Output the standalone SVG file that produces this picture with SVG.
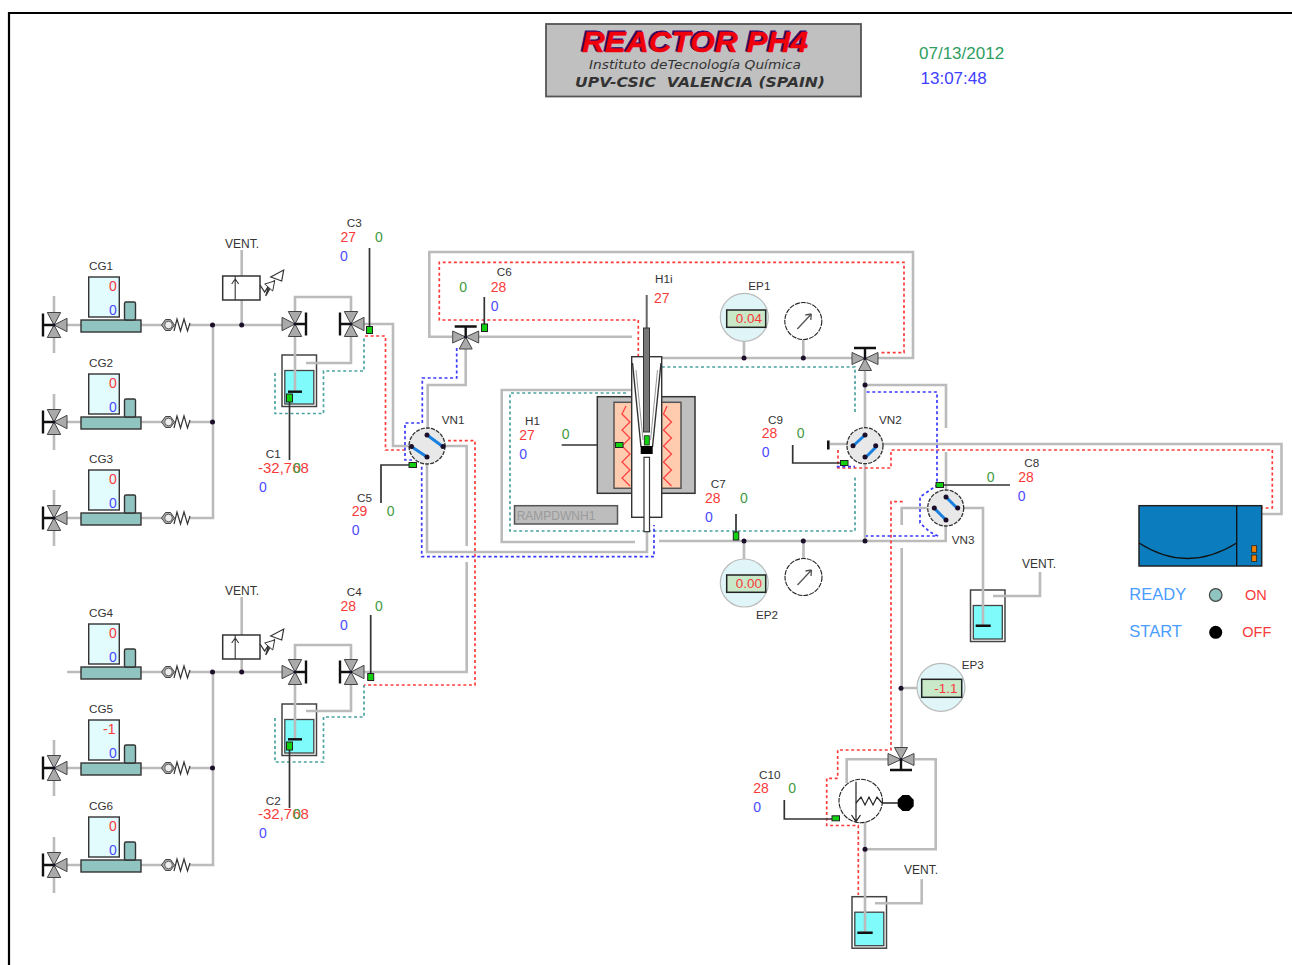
<svg xmlns="http://www.w3.org/2000/svg" xmlns:xlink="http://www.w3.org/1999/xlink" width="1292" height="965" viewBox="0 0 1292 965">
<style>
text{font-family:"Liberation Sans",Arial,sans-serif;font-size:14px}
.l{font-size:11.7px;fill:#333}
.r{fill:#f83a3a}.b{fill:#4a4aff}.g{fill:#3f9a3f}
.big{font-size:15px}
.p{fill:none;stroke:#bbb;stroke-width:2.6}
.dr,.db,.dt{fill:none;stroke-width:1.7;stroke-dasharray:3 2.6}
.dr{stroke:#ff3c3c}.db{stroke:#3a3aff}.dt{stroke:#4aa3a0}
.k{fill:none;stroke:#333;stroke-width:1.7}
.tri{fill:#aaa;stroke:#444;stroke-width:1}
.bar{stroke:#111;stroke-width:2.4;fill:none}
.dot{fill:#1c0f2a}
.sens{fill:#10d010;stroke:#222;stroke-width:1}
.blue{stroke:#1a80e0;stroke-width:3}
.disp{fill:#c8e8c8;stroke:#222;stroke-width:1.5}
.ep{fill:#dff5f7;stroke:#bbb;stroke-width:1.2}
.hz{fill:none;stroke:#ff4040;stroke-width:1.3}
</style>
<defs>
<g id="cgBody">
<rect x="81" y="-5" width="60" height="12" fill="#8fc4c0" stroke="#333" stroke-width="1.4"/>
<rect x="124.500" y="-23" width="11" height="18" rx="1.500" fill="#8fc4c0" stroke="#333" stroke-width="1.400"/>
<rect x="88.700" y="-48" width="30.600" height="40" fill="#e2fbfd" stroke="#333" stroke-width="1.400"/>
</g>
<g id="check">
<polygon points="161.500,0 165.500,-5.500 170.500,-5.500 174.500,0 170.500,5.500 165.500,5.500" fill="#aaa" stroke="#444"/>
<circle cx="168.500" cy="0" r="3.800" fill="#eee" stroke="#444" stroke-width=".8"/>
<polyline points="174,6 177,-6 180.500,6 184,-6 187.500,6 190,-2" fill="none" stroke="#333" stroke-width="1.200"/>
</g>
<g id="valve4">
<polygon class="tri" points="0,0 -6.700,-12.500 6.700,-12.500"/>
<polygon class="tri" points="0,0 -6.700,12.500 6.700,12.500"/>
<polygon class="tri" points="0,0 13,-6.700 13,6.700"/>
<path class="bar" d="M0,0H-11M-11,-11.500V11.500"/>
<circle class="dot" r="1.500"/>
</g>
<g id="valveT">
<polygon class="tri" points="0,0 -13,-6 -13,6"/>
<polygon class="tri" points="0,0 13,-6 13,6"/>
<polygon class="tri" points="0,0 -6.500,12 6.500,12"/>
<path class="bar" d="M0,0V-10.500M-11,-10.500H11"/>
<circle class="dot" r="1.500"/>
</g>
<g id="vessel">
<rect x="0" y="0" width="34.500" height="51.500" fill="#fff" stroke="#444" stroke-width="1.500"/>
<rect x="2.800" y="15.500" width="29" height="33.500" fill="#7ffbfb" stroke="#444" stroke-width="1.300"/>
</g>
<g id="vn">
<circle r="18" fill="#e8e8e8" stroke="#333" stroke-width="1.300" stroke-dasharray="4 1.200"/>
</g>
<g id="gauge">
<circle r="18.500" fill="#fff" stroke="#222" stroke-width="1.100" stroke-dasharray="5 1"/>
<path d="M-6,8L8,-7M8,-7L2,-6M8,-7L7.500,-1" fill="none" stroke="#555" stroke-width="1.300"/>
</g>
<g id="ventValve">
<rect x="0" y="0" width="37.300" height="24" fill="#fff" stroke="#333" stroke-width="1.500"/>
<path d="M12.500,0V24M12.500,3L9,8M12.500,3L16,8" fill="none" stroke="#333" stroke-width="1.100"/>
<polyline points="37.300,9 42,16 47,8 43,20 52,4" fill="none" stroke="#333" stroke-width="1.300"/>
<polygon points="48,1 61,-6 59,5" fill="#fff" stroke="#333" stroke-width="1.200"/>
<polygon points="42,8 52,5 50,15" fill="#fff" stroke="#333" stroke-width="1"/>
</g>
</defs>

<rect width="1292" height="965" fill="#fff"/>
<path d="M9,965V13H1292" fill="none" stroke="#000" stroke-width="2.200"/>

<g id="title">
<rect x="546" y="24" width="315" height="72.500" fill="#c0c0c0" stroke="#555" stroke-width="1.800"/>
<text x="580.500" y="50.700" font-weight="bold" font-style="italic" textLength="226" lengthAdjust="spacingAndGlyphs" style="font-size:30px;fill:#2a0a70;stroke:#2a0a70;stroke-width:.8">REACTOR PH4</text>
<text x="582" y="51.700" font-weight="bold" font-style="italic" textLength="226" lengthAdjust="spacingAndGlyphs" style="font-size:30px;fill:#f0000a;stroke:#f0000a;stroke-width:.5">REACTOR PH4</text>
<text x="589" y="69" font-style="italic" textLength="212" lengthAdjust="spacingAndGlyphs" style="font-family:'DejaVu Sans',sans-serif;font-size:12.500px;fill:#333">Instituto deTecnología Química</text>
<text x="575" y="87" font-style="italic" font-weight="bold" textLength="250" lengthAdjust="spacingAndGlyphs" style="font-family:'DejaVu Sans',sans-serif;font-size:13.500px;fill:#333;white-space:pre">UPV-CSIC  VALENCIA (SPAIN)</text>
</g>
<g id="clock">
<text x="919" y="59.300" style="font-size:17px;fill:#2e9e62">07/13/2012</text>
<text x="920.500" y="84" style="font-size:17px;fill:#4040ff">13:07:48</text>
</g>

<g id="vessels">
<use href="#vessel" x="282" y="355"/>
<use href="#vessel" x="282" y="704"/>
<use href="#vessel" x="970.500" y="590"/>
<use href="#vessel" x="852" y="896.700"/>
</g>

<g id="connectors">
<path class="p" d="M54,296V353M54,325H81M141,325H162M190,325H282"/>
<path class="p" d="M54,394V450M54,422H81M141,422H162M190,422H213"/>
<path class="p" d="M54,490V546M54,518H81M141,518H162M190,518H213V325"/>
<path class="p" d="M67,672H81M141,672H162M190,672H282"/>
<path class="p" d="M54,740V796M54,768H81M141,768H162M190,768H213"/>
<path class="p" d="M54,837V893M54,865H81M141,865H162M190,865H213V672"/>
<path class="p" d="M241.700,250V276M241.700,300V325M241.700,597V635M241.700,659V672"/>
<path class="p" d="M295,312V297H351V312M295,336V392M351,336V363H306"/>
<path class="p" d="M295,660V645H351V660M295,684V740M351,684V711H306"/>
<path class="p" d="M364,324H393V446H410"/>
<path class="p" d="M364,672H466.700V562M466.700,546V446H445"/>
<path class="p" d="M452,336.700H429.300V252H913V358H878"/>
<path class="p" d="M479,336.700H632"/>
<path class="p" d="M465.700,348V385H427.700V428M427,464V552H647V532"/>
<path class="p" d="M662,358H852"/>
<path class="p" d="M632,390H501.700V542H635M659,541H945.700V526"/>
<path class="p" d="M744,341V358M803.300,340V358M744,541V559M803.500,541V559"/>
<path class="p" d="M865,371V428M865,464V541M865,385H946V428M946,452V490"/>
<path class="p" d="M830,444H847M883,444H1281.500V514H1262"/>
<path class="p" d="M927,508H901.700V525M901.700,548V750M901,688H917"/>
<path class="p" d="M964,508H983V626M993,596H1040V572"/>
<path class="p" d="M888,759.300H846.700V783M915,759.300H935.700V849.300H865M865,822V933M875,903.300H921.700V879.300"/>
<path class="dt" d="M275,373V413.500H323.500V371H364V336"/>
<path class="dt" d="M275,718V762H323.500V717H364V685"/>
<path class="dt" d="M626,393H510V531H855V476M855,412V367H662"/>
<path class="dr" d="M365,336H385.500V450H405"/>
<path class="dr" d="M448,440.700H475V685H364"/>
<path class="dr" d="M638.300,356.700V320H439.300V262.300H904V352.700H880"/>
<path class="dr" d="M838,450V468H891V450H1272.300V508H1262"/>
<path class="dr" d="M902.700,501.700H891V750H837.700V778.300H826.700V825.500H858.300V895"/>
<path class="db" d="M456.700,348V378H422.300V423H405V460H412"/>
<path class="db" d="M421.700,466.700V556.700H654V525"/>
<path class="db" d="M866.700,392H937V485L933,488L920,497V523L930,532L938,536H866"/>
<path class="db" d="M836.700,466.700H855"/>
<path class="k" d="M369.500,248V330M289.500,398V460M370.700,615V677M289.500,746V808M381,503V465H410M484.300,297V327"/>
<path class="k" d="M561.700,445H619M736,514V535M792.700,445V463H840M939.300,485H1010M784.300,800V819H832"/>
<path class="k" style="stroke:#666;stroke-width:2" d="M646.700,295V328"/>
</g>

<g id="dots">
<circle class="dot" cx="212.500" cy="325" r="2.500"/><circle class="dot" cx="241.700" cy="325" r="2.500"/><circle class="dot" cx="212.500" cy="422" r="2.500"/>
<circle class="dot" cx="212.500" cy="672" r="2.500"/><circle class="dot" cx="241.700" cy="672" r="2.500"/><circle class="dot" cx="212.500" cy="768" r="2.500"/>
<circle class="dot" cx="744" cy="358" r="2.500"/><circle class="dot" cx="803.300" cy="358" r="2.500"/><circle class="dot" cx="865" cy="385" r="2.500"/>
<circle class="dot" cx="744" cy="541" r="2.500"/><circle class="dot" cx="803.300" cy="541" r="2.500"/><circle class="dot" cx="865" cy="541" r="2.500"/>
<circle class="dot" cx="901" cy="688.300" r="2.500"/><circle class="dot" cx="865" cy="849.300" r="2.500"/>
</g>

<g id="CG1" transform="translate(0,325)"><use href="#valve4" x="54"/><use href="#cgBody"/><use href="#check"/><text class="l" x="89" y="-55">CG1</text><text class="r" x="116.700" y="-34" text-anchor="end">0</text><text class="b" x="116.700" y="-10" text-anchor="end">0</text></g>
<g id="CG2" transform="translate(0,422)"><use href="#valve4" x="54"/><use href="#cgBody"/><use href="#check"/><text class="l" x="89" y="-55">CG2</text><text class="r" x="116.700" y="-34" text-anchor="end">0</text><text class="b" x="116.700" y="-10" text-anchor="end">0</text></g>
<g id="CG3" transform="translate(0,518)"><use href="#valve4" x="54"/><use href="#cgBody"/><use href="#check"/><text class="l" x="89" y="-55">CG3</text><text class="r" x="116.700" y="-34" text-anchor="end">0</text><text class="b" x="116.700" y="-10" text-anchor="end">0</text></g>
<g id="CG4" transform="translate(0,672)"><use href="#cgBody"/><use href="#check"/><text class="l" x="89" y="-55">CG4</text><text class="r" x="116.700" y="-34" text-anchor="end">0</text><text class="b" x="116.700" y="-10" text-anchor="end">0</text></g>
<g id="CG5" transform="translate(0,768)"><use href="#valve4" x="54"/><use href="#cgBody"/><use href="#check"/><text class="l" x="89" y="-55">CG5</text><text class="r" x="115.500" y="-34" text-anchor="end">-1</text><text class="b" x="116.700" y="-10" text-anchor="end">0</text></g>
<g id="CG6" transform="translate(0,865)"><use href="#valve4" x="54"/><use href="#cgBody"/><use href="#check"/><text class="l" x="89" y="-55">CG6</text><text class="r" x="116.700" y="-34" text-anchor="end">0</text><text class="b" x="116.700" y="-10" text-anchor="end">0</text></g>

<g id="vent1"><use href="#ventValve" x="222.700" y="276"/><text class="l" x="225" y="248.300" style="font-size:12px">VENT.</text></g>
<g id="vent2"><use href="#ventValve" x="222.700" y="635"/><text class="l" x="225" y="595" style="font-size:12px">VENT.</text></g>

<g id="V1a"><use href="#valve4" transform="translate(295,324) scale(-1,1)"/></g>
<g id="V1b"><use href="#valve4" x="351" y="324"/></g>
<g id="V2a"><use href="#valve4" transform="translate(295,672) scale(-1,1)"/></g>
<g id="V2b"><use href="#valve4" x="351" y="672"/></g>

<g id="C1"><path class="bar" d="M288,391.700H302"/><rect class="sens" x="286.500" y="394" width="6" height="8"/><text class="l" x="265.700" y="457.700">C1</text><text class="r big" x="258" y="473">-32,768</text><text class="g" x="293" y="473">0</text><text class="b" x="259" y="492">0</text></g>
<g id="C2"><path class="bar" d="M288,739.300H302"/><rect class="sens" x="286.500" y="742" width="6" height="8"/><text class="l" x="265.700" y="805">C2</text><text class="r big" x="258" y="819">-32,768</text><text class="g" x="293" y="819">0</text><text class="b" x="259" y="838">0</text></g>
<g id="C3"><rect class="sens" x="366.500" y="326.500" width="6" height="7"/><text class="l" x="346.700" y="226.700">C3</text><text class="r" x="340.500" y="242">27</text><text class="g" x="375" y="242">0</text><text class="b" x="340" y="261">0</text></g>
<g id="C4"><rect class="sens" x="367.700" y="673.500" width="6" height="7"/><text class="l" x="346.700" y="596">C4</text><text class="r" x="340.500" y="610.500">28</text><text class="g" x="375" y="610.500">0</text><text class="b" x="340" y="629.500">0</text></g>
<g id="C5"><rect class="sens" x="409" y="462.500" width="7.500" height="5"/><text class="l" x="357" y="501.700">C5</text><text class="r" x="351.700" y="516">29</text><text class="g" x="386.700" y="516">0</text><text class="b" x="351.700" y="535">0</text></g>
<g id="C6"><rect class="sens" x="481.500" y="324" width="6" height="7.500"/><text class="l" x="496.700" y="276">C6</text><text class="g" x="459.300" y="291.700">0</text><text class="r" x="490.700" y="291.700">28</text><text class="b" x="490.700" y="310.700">0</text></g>
<g id="C7"><rect class="sens" x="733.300" y="532" width="5.500" height="8"/><text class="l" x="710.700" y="488">C7</text><text class="r" x="705" y="503">28</text><text class="g" x="740" y="502.700">0</text><text class="b" x="705" y="522">0</text></g>
<g id="C8"><rect class="sens" x="936" y="482.500" width="7.500" height="5"/><text class="l" x="1024.300" y="467.300">C8</text><text class="r" x="1018.300" y="482.300">28</text><text class="g" x="986.700" y="481.700">0</text><text class="b" x="1017.700" y="501">0</text></g>
<g id="C9"><rect class="sens" x="840.500" y="460.500" width="7.500" height="5"/><text class="l" x="768" y="424">C9</text><text class="r" x="761.700" y="438">28</text><text class="g" x="796.700" y="438">0</text><text class="b" x="761.700" y="457">0</text></g>
<g id="stub"><path class="bar" style="stroke-width:2.600" d="M828.300,440.500V449.500"/></g>

<g id="VT1"><use href="#valveT" x="465.700" y="337"/></g>
<g id="VT2"><use href="#valveT" x="865" y="358.500"/></g>
<g id="VT3"><use href="#valveT" transform="translate(901,759.500) scale(1,-1)"/></g>

<g id="VN1"><use href="#vn" x="427" y="446"/><path class="blue" d="M427,435L442,446M412,447L427,457"/><circle class="dot" cx="427" cy="435" r="2.500"/><circle class="dot" cx="443" cy="446.500" r="2.500"/><circle class="dot" cx="411.500" cy="446.500" r="2.500"/><circle class="dot" cx="427" cy="457" r="2.500"/><text class="l" x="441.700" y="424">VN1</text></g>
<g id="VN2"><use href="#vn" x="865" y="445.700"/><path class="blue" d="M853,446L865,435M866,457L877,446"/><circle class="dot" cx="853" cy="445.700" r="2.500"/><circle class="dot" cx="865" cy="435" r="2.500"/><circle class="dot" cx="875.700" cy="445.700" r="2.500"/><circle class="dot" cx="865" cy="457" r="2.500"/><text class="l" x="879" y="424">VN2</text></g>
<g id="VN3"><use href="#vn" x="945.700" y="508"/><path class="blue" d="M934,508L946,520M946,497L957,508"/><circle class="dot" cx="934.300" cy="508" r="2.500"/><circle class="dot" cx="946" cy="497" r="2.500"/><circle class="dot" cx="957.700" cy="508" r="2.500"/><circle class="dot" cx="946" cy="520" r="2.500"/><text class="l" x="951.700" y="544">VN3</text></g>

<g id="RAMPDWNH1"><rect x="514.500" y="505.700" width="103" height="18.300" fill="#bdbdbd" stroke="#555" stroke-width="1.500"/><text x="516.700" y="520" style="font-size:12px;fill:#9a9a9a">RAMPDWNH1</text></g>

<g id="reactor">
<rect x="597.300" y="396.700" width="97.700" height="96.600" fill="#bfbfbf" stroke="#333" stroke-width="1.500"/>
<rect x="614" y="402.300" width="67" height="86" fill="#ffccb0" stroke="#555" stroke-width="1.500"/>
<polyline class="hz" points="626,406 622,414 630,422 622,430 630,438 622,446 630,454 622,462 630,470 622,478 630,486"/>
<polyline class="hz" points="667,406 663.500,414 671.500,422 663.500,430 671.500,438 663.500,446 671.500,454 663.500,462 671.500,470 663.500,478 671.500,486"/>
<rect x="631.700" y="356.700" width="30" height="160.600" fill="#fff" stroke="#333" stroke-width="1.400"/>
<path d="M632.500,363L641,447M661,363L652.500,447" fill="none" stroke="#333" stroke-width="1.400"/>
<path d="M636,370L643,440M657.500,370L650.500,440" fill="none" stroke="#999" stroke-width="1"/>
<rect x="643.500" y="328" width="6" height="104" fill="#777" stroke="#333" stroke-width="1"/>
<rect x="640.700" y="446" width="12" height="8" fill="#000"/>
<rect x="644.300" y="435.700" width="5" height="9.300" fill="#10d010" stroke="#222" stroke-width=".8"/>
<rect x="644" y="457.300" width="5.500" height="74.400" fill="#fff" stroke="#333" stroke-width="1.200"/>
</g>
<g id="H1"><rect class="sens" x="615.500" y="442.500" width="7.500" height="5"/><text class="l" x="525" y="425">H1</text><text class="r" x="519.300" y="440">27</text><text class="g" x="561.700" y="439">0</text><text class="b" x="519.300" y="459">0</text></g>
<g id="H1i"><text class="l" x="655" y="283.300">H1i</text><text class="r" x="654" y="303.300">27</text></g>

<g id="EP1"><circle class="ep" cx="744.300" cy="317.300" r="24"/><rect class="disp" x="726.700" y="310" width="39" height="17.300"/><text class="r" x="762" y="323" text-anchor="end" style="font-size:13.500px">0.04</text><text class="l" x="748.300" y="290">EP1</text></g>
<g id="G1"><use href="#gauge" x="803.300" y="321"/></g>
<g id="EP2"><circle class="ep" cx="744.300" cy="583" r="24"/><rect class="disp" x="726.700" y="575" width="39" height="17.300"/><text class="r" x="762" y="588" text-anchor="end" style="font-size:13.500px">0.00</text><text class="l" x="756" y="619">EP2</text></g>
<g id="G2"><use href="#gauge" x="803.500" y="577"/></g>
<g id="EP3"><circle class="ep" cx="941" cy="687.300" r="24"/><rect class="disp" x="921.700" y="679.300" width="40" height="18"/><text class="r" x="957.500" y="692.700" text-anchor="end" style="font-size:13.500px">-1.1</text><text class="l" x="961.700" y="669">EP3</text></g>

<g id="oven">
<rect x="1139" y="505.700" width="122.700" height="60.300" fill="#0b7cbd" stroke="#222" stroke-width="1.500"/>
<path d="M1236.700,505.700V566M1139,543Q1187,574 1236.700,543" fill="none" stroke="#111" stroke-width="1.300"/>
<rect x="1251.700" y="545.700" width="5" height="6.600" fill="#f08000" stroke="#222" stroke-width=".8"/>
<rect x="1251.700" y="555" width="5" height="6.600" fill="#f08000" stroke="#222" stroke-width=".8"/>
</g>
<g id="status">
<text x="1129.300" y="600" style="font-size:16.500px;fill:#4a9cff">READY</text>
<text x="1129.300" y="637.300" style="font-size:16.500px;fill:#4a9cff">START</text>
<circle cx="1215.700" cy="595" r="6.300" fill="#8fc4c0" stroke="#444" stroke-width="1.200"/>
<circle cx="1215.700" cy="632.300" r="6.500" fill="#000"/>
<text class="r" x="1245" y="600" style="font-size:14.500px">ON</text>
<text class="r" x="1242.300" y="637" style="font-size:14.500px">OFF</text>
</g>
<g id="bars"><path class="bar" d="M975.700,625.700H990.700M857.300,932.700H872.700"/><text class="l" x="1022" y="568" style="font-size:12px">VENT.</text><text class="l" x="904" y="874" style="font-size:12px">VENT.</text></g>

<g id="condenser">
<circle cx="860.700" cy="801" r="21.700" fill="#fff" stroke="#222" stroke-width="1.100" stroke-dasharray="5 1"/>
<path d="M856,781.700V821.700M851.500,815L856,821.700L860.500,815" fill="none" stroke="#222" stroke-width="1.200"/>
<polyline points="856,803 861,797 865,805 869,797 873,805 877,797 882,803" fill="none" stroke="#222" stroke-width="1.200"/>
<path d="M882,803H898" stroke="#222" stroke-width="1.500"/>
<polygon points="902.500,795 909,795 913.700,799.700 913.700,806.300 909,811 902.500,811 897.700,806.300 897.700,799.700" fill="#000"/>
</g>
<g id="C10"><rect class="sens" x="832" y="815.800" width="7.500" height="5"/><text class="l" x="759" y="779.300">C10</text><text class="r" x="753.300" y="793.300">28</text><text class="g" x="788.300" y="793.300">0</text><text class="b" x="753.300" y="812.300">0</text></g>
</svg>
